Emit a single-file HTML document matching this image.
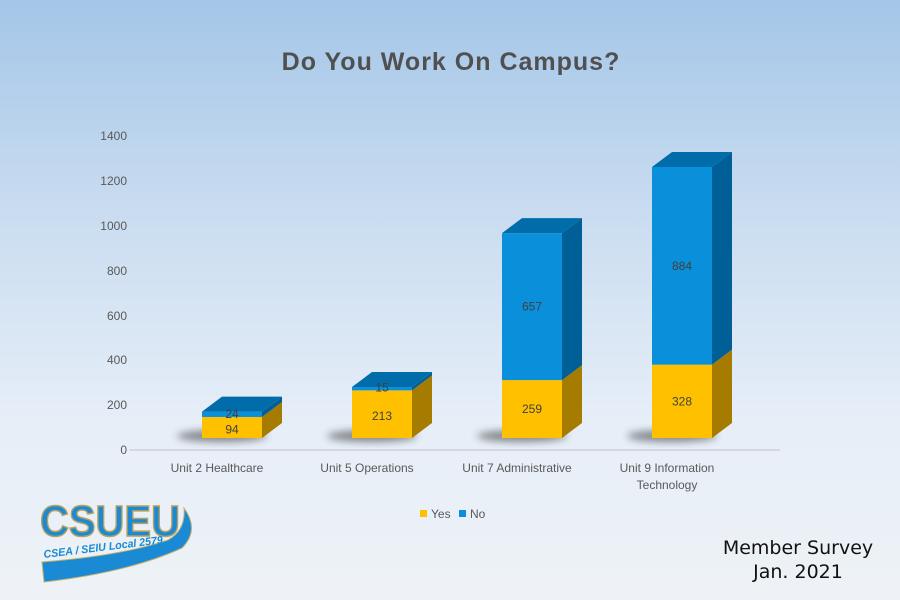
<!DOCTYPE html>
<html><head><meta charset="utf-8"><style>
html,body{margin:0;padding:0}
body{width:900px;height:600px;overflow:hidden;background:linear-gradient(#a4c6e8 0%,#c9dcf0 35%,#e6eef8 70%,#eef2f6 100%);font-family:"Liberation Sans",sans-serif;position:relative}
svg{position:absolute;left:0;top:0}
</style></head><body>
<svg id="s" width="900" height="600" xmlns="http://www.w3.org/2000/svg">
<defs><filter id="bl" x="-50%" y="-50%" width="200%" height="200%"><feGaussianBlur stdDeviation="4"/></filter></defs>
<text x="451" y="70" text-anchor="middle" font-size="25" font-weight="bold" fill="#505050" letter-spacing="1" font-family="Liberation Sans">Do You Work On Campus?</text>
<line x1="130" y1="450" x2="780" y2="450" stroke="#d4d8dc" stroke-width="2"/>
<g font-size="12" fill="#595959" text-anchor="end">
<text x="127" y="454">0</text><text x="127" y="409">200</text><text x="127" y="364">400</text><text x="127" y="320">600</text><text x="127" y="275">800</text><text x="127" y="230">1000</text><text x="127" y="185">1200</text><text x="127" y="140">1400</text>
</g>
<g id="bars"></g>
<g font-size="12" fill="#595959" text-anchor="middle">
<text x="217" y="472">Unit 2 Healthcare</text>
<text x="367" y="472">Unit 5 Operations</text>
<text x="517" y="472">Unit 7 Administrative</text>
<text x="667" y="472">Unit 9 Information</text>
<text x="667" y="489">Technology</text>
</g>
<rect x="420" y="510" width="7" height="7" fill="#FFC000"/><text x="431" y="518" font-size="12" fill="#595959">Yes</text>
<rect x="459" y="510" width="7" height="7" fill="#0A8FDB"/><text x="470" y="518" font-size="12" fill="#595959">No</text>
<g font-family="DejaVu Sans" font-size="19" fill="#111" text-anchor="middle">
<text x="798" y="554">Member Survey</text><text x="798" y="578">Jan. 2021</text>
</g>
<g>
<path d="M42 562 Q120 556 168 540 Q186 530 184 508 Q200 530 182 548 Q130 572 44 582 Z" fill="#1a8ad4" stroke="#c8b070" stroke-width="1"/>
<text x="40" y="536" font-size="44" font-weight="bold" fill="#1a8ad4" stroke="#b8a060" stroke-width="1.5" textLength="140" lengthAdjust="spacingAndGlyphs">CSUEU</text>
<text x="44" y="558" font-size="11" font-weight="bold" font-style="italic" fill="#1a8ad4" textLength="120" lengthAdjust="spacingAndGlyphs" transform="rotate(-7 44 558)">CSEA / SEIU Local 2579</text>
</g>
</svg>
<script>
var g=document.getElementById('bars'),s=0.2236,b=438,h='';
var d=[[202,94,24],[352,213,15],[502,259,657],[652,328,884]];
d.forEach(function(r){var x=r[0],y1=b-r[1]*s,y2=y1-r[2]*s,w=60,dx=20,dy=15;
h+='<ellipse cx="'+(x+20)+'" cy="'+(b-2)+'" rx="45" ry="6" fill="#333" opacity="0.55" filter="url(#bl)"/>';
h+='<rect x="'+x+'" y="'+y1+'" width="'+w+'" height="'+(b-y1)+'" fill="#FFC000"/>';
h+='<polygon points="'+(x+w)+','+b+' '+(x+w+dx)+','+(b-dy)+' '+(x+w+dx)+','+(y1-dy)+' '+(x+w)+','+y1+'" fill="#A67C00"/>';
h+='<rect x="'+x+'" y="'+y2+'" width="'+w+'" height="'+(y1-y2)+'" fill="#0A8FDB"/>';
h+='<polygon points="'+(x+w)+','+y1+' '+(x+w+dx)+','+(y1-dy)+' '+(x+w+dx)+','+(y2-dy)+' '+(x+w)+','+y2+'" fill="#005F96"/>';
h+='<polygon points="'+x+','+y2+' '+(x+w)+','+y2+' '+(x+w+dx)+','+(y2-dy)+' '+(x+dx)+','+(y2-dy)+'" fill="#006DAA"/>';
var ly=(y1+b)/2+4, ny=(y1+y2)/2+4;
if(r[2]<30){ly=(y1+b)/2+6;ny=y1+1;}
h+='<text x="'+(x+30)+'" y="'+ly+'" text-anchor="middle" font-size="12" fill="#404040">'+r[1]+'</text>';
h+='<text x="'+(x+30)+'" y="'+ny+'" text-anchor="middle" font-size="12" fill="#404040">'+r[2]+'</text>';
});
g.innerHTML=h;
</script>
</body></html>
